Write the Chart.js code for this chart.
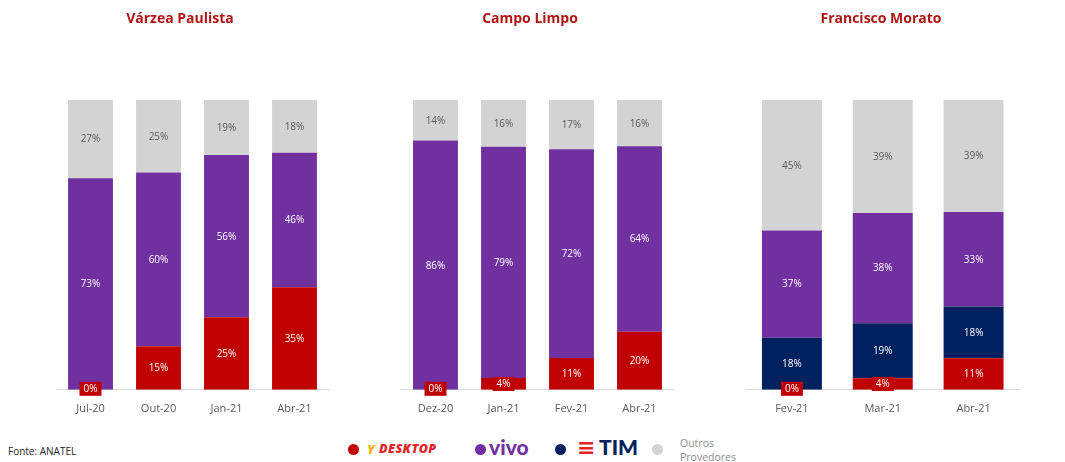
<!DOCTYPE html>
<html>
<head>
<meta charset="utf-8">
<script src="https://cdn.jsdelivr.net/npm/chart.js@4/dist/chart.umd.min.js"></script>
<style>
  body { margin: 0; background: #fff; width: 1065px; height: 462px; position: relative; overflow: hidden; font-family: "Open Sans", sans-serif; }
  .box { position: absolute; top: 0; height: 432px; }
  .title { position: absolute; top: 8px; font-size: 14px; font-weight: bold; color: #b01515; text-align: center; width: 300px; }
  .abs { position: absolute; white-space: nowrap; }
  .dot { position: absolute; top: 444px; width: 11px; height: 11px; border-radius: 50%; }
  #fonte { position: absolute; left: 8px; top: 444px; font-size: 10px; color: #262626; }
</style>
</head>
<body>
<div class="box" style="left:30px;width:300px"><canvas id="c1"></canvas></div>
<div class="box" style="left:386px;width:288px"><canvas id="c2"></canvas></div>
<div class="box" style="left:743px;width:277px"><canvas id="c3"></canvas></div>
<div class="title" style="left:30px">Várzea Paulista</div>
<div class="title" style="left:380px">Campo Limpo</div>
<div class="title" style="left:731px">Francisco Morato</div>
<div id="fonte">Fonte: ANATEL</div>

<span class="dot" style="left:348px;background:#c00000"></span>
<span class="abs" style="left:367px;top:440px;color:#f5b400;font-weight:800;font-style:italic;font-size:13px">Y</span>
<span class="abs" style="left:379px;top:440px;color:#e2232a;font-weight:800;font-style:italic;font-size:12.5px;letter-spacing:0.4px">DESKTOP</span>
<span class="dot" style="left:475px;background:#7030a0"></span>
<span class="abs" style="left:489px;top:434px;color:#7030a0;font-weight:900;font-size:21px;font-family:Lato,sans-serif">vivo</span>
<span class="dot" style="left:555px;background:#002060"></span>
<span class="abs" style="left:577px;top:435px;color:#e2232a;font-weight:900;font-size:22px;font-family:'DejaVu Sans',sans-serif">&#8801;</span>
<span class="abs" style="left:599px;top:434px;color:#002060;font-weight:900;font-size:21px;font-family:Lato,sans-serif">TIM</span>
<span class="dot" style="left:652px;background:#d3d3d3"></span>
<span class="abs" style="left:680px;top:436px;color:#8c8c8c;font-size:10.5px;line-height:14px">Outros<br>Provedores</span>

<script>
'use strict';

const vpLabels = ['Jul-20', 'Out-20', 'Jan-21', 'Abr-21'];
const vpDesktop = [0, 15, 25, 35];
const vpVivo = [73, 60, 56, 46];
const vpOutros = [27, 25, 19, 18];

const clLabels = ['Dez-20', 'Jan-21', 'Fev-21', 'Abr-21'];
const clDesktop = [0, 4, 11, 20];
const clVivo = [86, 79, 72, 64];
const clOutros = [14, 16, 17, 16];

const fmLabels = ['Fev-21', 'Mar-21', 'Abr-21'];
const fmDesktop = [0, 4, 11];
const fmTim = [18, 19, 18];
const fmVivo = [37, 38, 33];
const fmOutros = [45, 39, 39];

const RED = '#c00000';
const PURPLE = '#7030a0';
const NAVY = '#002060';
const GRAY = '#d3d3d3';

// draws the % labels inside the segments
const segLabels = {
  id: 'segLabels',
  afterDatasetsDraw(chart) {
    const ctx = chart.ctx;
    ctx.save();
    ctx.font = '10px "Open Sans", sans-serif';
    ctx.textAlign = 'center';
    ctx.textBaseline = 'middle';
    chart.data.datasets.forEach((ds, i) => {
      const meta = chart.getDatasetMeta(i);
      meta.data.forEach((el, j) => {
        const v = ds.raw[j];
        let y = (el.y + el.base) / 2;
        if (ds.backgroundColor === RED && v < 6) {
          if (v === 0) y -= 1;
          ctx.fillStyle = RED;
          ctx.fillRect(el.x - 11, y - 7, 22, 14);
        }
        ctx.fillStyle = ds.backgroundColor === GRAY ? '#595959' : '#ffffff';
        ctx.fillText(v + '%', el.x, y + 0.5);
      });
    });
    ctx.restore();
  }
};

function makeChart(id, labels, series, padL, padR) {
  const totals = labels.map((_, j) => series.reduce((s, d) => s + d.data[j], 0));
  const ctx = document.getElementById(id).getContext('2d');
  new Chart(ctx, {
    type: 'bar',
    data: {
      labels: labels,
      datasets: series.map(s => ({
        label: s.name,
        raw: s.data,
        data: s.data.map((v, j) => v / totals[j] * 100),
        backgroundColor: s.color,
        borderWidth: 0,
        barPercentage: 0.66,
        categoryPercentage: 1
      }))
    },
    options: {
      responsive: true,
      maintainAspectRatio: false,
      animation: false,
      layout: { padding: { left: padL, right: padR, top: 100, bottom: 5 } },
      plugins: {
        legend: { display: false },
        tooltip: { enabled: false },
        title: { display: false }
      },
      scales: {
        x: {
          stacked: true,
          grid: { display: false, drawTicks: false },
          border: { display: true, color: '#d9d9d9', width: 1 },
          ticks: { color: '#595959', font: { family: '"Open Sans", sans-serif', size: 11 }, padding: 12 }
        },
        y: { stacked: true, display: false, min: 0, max: 100 }
      }
    },
    plugins: [segLabels]
  });
}

makeChart('c1', vpLabels, [
  { name: 'Desktop', data: vpDesktop, color: RED },
  { name: 'Vivo', data: vpVivo, color: PURPLE },
  { name: 'Outros Provedores', data: vpOutros, color: GRAY }
], 26.5, 1.5);

makeChart('c2', clLabels, [
  { name: 'Desktop', data: clDesktop, color: RED },
  { name: 'Vivo', data: clVivo, color: PURPLE },
  { name: 'Outros Provedores', data: clOutros, color: GRAY }
], 15.5, 0.5);

makeChart('c3', fmLabels, [
  { name: 'Desktop', data: fmDesktop, color: RED },
  { name: 'TIM', data: fmTim, color: NAVY },
  { name: 'Vivo', data: fmVivo, color: PURPLE },
  { name: 'Outros Provedores', data: fmOutros, color: GRAY }
], 3.5, 1);
</script>
</body>
</html>
